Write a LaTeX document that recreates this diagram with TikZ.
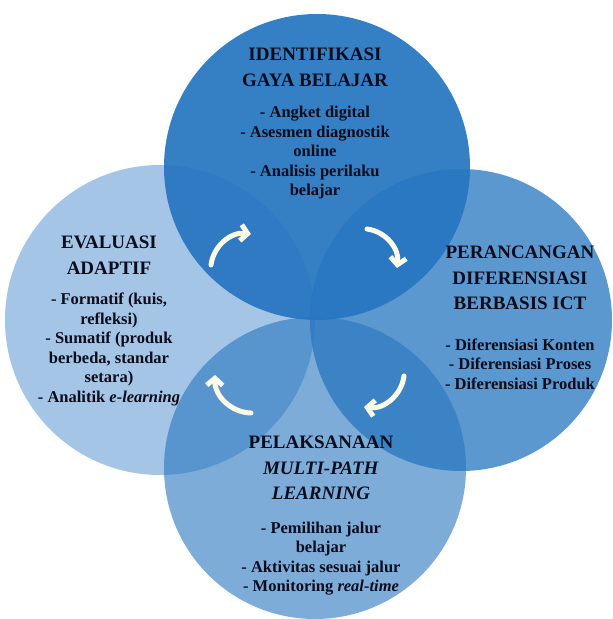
\documentclass[tikz,border=0pt]{standalone}
\usepackage{fontspec}
\setmainfont{Liberation Serif}
\usetikzlibrary{arrows.meta, positioning}
\definecolor{cycleBlue}{RGB}{38,117,192}
\definecolor{cycleText}{RGB}{12,12,28}
\definecolor{cycleArrow}{RGB}{255,251,232}

\begin{document}
\begin{tikzpicture}[
    x=1pt, y=1pt,
    disc/.style={circle, fill=cycleBlue, inner sep=0pt},
    heading/.style={align=center, inner sep=0pt, text=cycleText, font=\fontsize{19}{25.5}\selectfont\bfseries},
    items/.style={align=center, inner sep=0pt, text=cycleText, font=\fontsize{16.5}{19.5}\selectfont\bfseries},
    cyc/.style={-{Straight Barb[length=7pt, width=16pt]}, line width=5pt, line cap=round, draw=cycleArrow}
]
\useasboundingbox (0,0) rectangle (613,619);

\node[disc, fill opacity=0.42, minimum size=310pt] (evalC) at (160,299) {};
\node[disc, fill opacity=0.6, minimum size=302pt] (pelakC) at (315,151) {};
\node[disc, fill opacity=0.75, minimum size=302pt] (rancC) at (461,299) {};
\node[disc, fill opacity=0.93, minimum size=306pt] (identC) at (317,452) {};

\node[heading, anchor=north] (ident) at (315,571) {IDENTIFIKASI\\GAYA BELAJAR};
\node[items, below=19.5pt of ident] (identItems) {- Angket digital\\- Asesmen diagnostik\\online\\- Analisis perilaku\\belajar};

\node[heading, anchor=north] (eval) at (109,383) {EVALUASI\\ADAPTIF};
\node[items, below=18.5pt of eval] (evalItems) {- Formatif (kuis,\\refleksi)\\- Sumatif (produk\\berbeda, standar\\setara)\\- Analitik \textit{e-learning}};

\node[heading, anchor=north] (ranc) at (520,373) {PERANCANGAN\\DIFERENSIASI\\BERBASIS ICT};
\node[items, below=28.5pt of ranc] (rancItems) {- Diferensiasi Konten\\- Diferensiasi Proses\\- Diferensiasi Produk};

\node[heading, anchor=north] (pelak) at (321,183) {PELAKSANAAN\\\textit{MULTI-PATH}\\\textit{LEARNING}};
\node[items, below=21.5pt of pelak] (pelakItems) {- Pemilihan jalur\\belajar\\- Aktivitas sesuai jalur\\- Monitoring \textit{real-time}};

\coordinate (a1s) at (211,354);
\coordinate (a1e) at (251,385);
\coordinate (a2s) at (367,390);
\coordinate (a2e) at (397,351);
\coordinate (a3s) at (404,243);
\coordinate (a3e) at (364,212);
\coordinate (a4s) at (251,206);
\coordinate (a4e) at (215,244);

\draw[cyc] (a1s) to[bend left=45] (a1e);
\draw[cyc] (a2s) to[bend left=45] (a2e);
\draw[cyc] (a3s) to[bend left=45] (a3e);
\draw[cyc] (a4s) to[bend left=45] (a4e);

\end{tikzpicture}
\end{document}
